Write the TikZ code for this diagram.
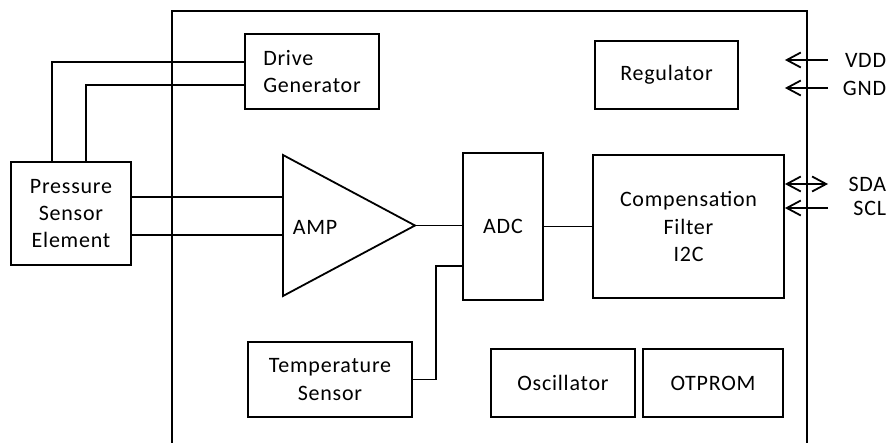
\documentclass[tikz,border=0pt]{standalone}
\usepackage{fontspec}
\setmainfont{Carlito}[LetterSpace=3.5]
\usetikzlibrary{arrows.meta}

\begin{document}
\begin{tikzpicture}[x=0.5pt, y=-0.5pt, line width=0.9pt,
    every node/.style={font=\fontsize{11pt}{13.6pt}\selectfont},
    block/.style={draw, align=center, inner sep=2pt},
    pinlabel/.style={anchor=east, inner sep=0pt},
    pinarrow/.style={-{Straight Barb[length=7pt, width=7.5pt]}},
    pinboth/.style={{Straight Barb[length=7pt, width=7.5pt]}-{Straight Barb[length=7pt, width=7.5pt]}}]
  \useasboundingbox (0,0) rectangle (892,443);

  % Chip outline (open at the bottom)
  \draw (172,443) -- (172,11) -- (807,11) -- (807,443);

  % Blocks
  \node[block, align=left, minimum width=67pt, minimum height=37.5pt] (drive) at (312,71.5) {Drive\\Generator};
  \node[block, minimum width=60pt, minimum height=51.5pt] (pse) at (71,213.5) {Pressure\\Sensor\\Element};
  \node[block, minimum width=71.5pt, minimum height=34pt] (reg) at (666.5,75) {Regulator};
  \node[block, minimum width=40pt, minimum height=73.5pt] (adc) at (503,226.5) {ADC};
  \node[block, minimum width=95.5pt, minimum height=71.5pt] (cf) at (688.5,226.5) {Compensation\\Filter\\I2C};
  \node[block, minimum width=82pt, minimum height=37.5pt] (temp) at (330,379.5) {Temperature\\Sensor};
  \node[block, minimum width=72pt, minimum height=34pt] (osc) at (563,383) {Oscillator};
  \node[block, minimum width=70pt, minimum height=34pt] (otp) at (713,383) {OTPROM};

  % Amplifier
  \draw (283,155) -- (415,225.5) -- (283,296) -- cycle;
  \node (amp) at (315,227) {AMP};
  \coordinate (ampout) at (415,225.5);
  \coordinate (in1) at (283,197);
  \coordinate (in2) at (283,235);

  % Sensor wiring
  \coordinate (p1) at (52,0);
  \coordinate (p2) at (86,0);
  \draw ([yshift=4.75pt]drive.west) -| (pse.north -| p1);
  \draw ([yshift=-6.75pt]drive.west) -| (pse.north -| p2);
  \draw (pse.east |- in1) -- (in1);
  \draw (pse.east |- in2) -- (in2);

  % Signal path
  \draw (ampout) -- (adc.west |- ampout);
  \draw (adc.east) -- (cf.west);
  \coordinate (tk) at (436,266);
  \draw (temp.east) -| (tk) -- (adc.west |- tk);

  % Pins
  \coordinate (pins) at (828,0);
  \node[pinlabel] (vdd) at (887,60) {VDD};
  \node[pinlabel] (gnd) at (887,88) {GND};
  \node[pinlabel] (sda) at (887,184) {SDA};
  \node[pinlabel] (scl) at (887,208) {SCL};
  \draw[pinarrow] (pins |- vdd) -- (cf.east |- vdd);
  \draw[pinarrow] (pins |- gnd) -- (cf.east |- gnd);
  \draw[pinboth] (pins |- sda) -- (cf.east |- sda);
  \draw[pinarrow] (pins |- scl) -- (cf.east |- scl);
\end{tikzpicture}
\end{document}
